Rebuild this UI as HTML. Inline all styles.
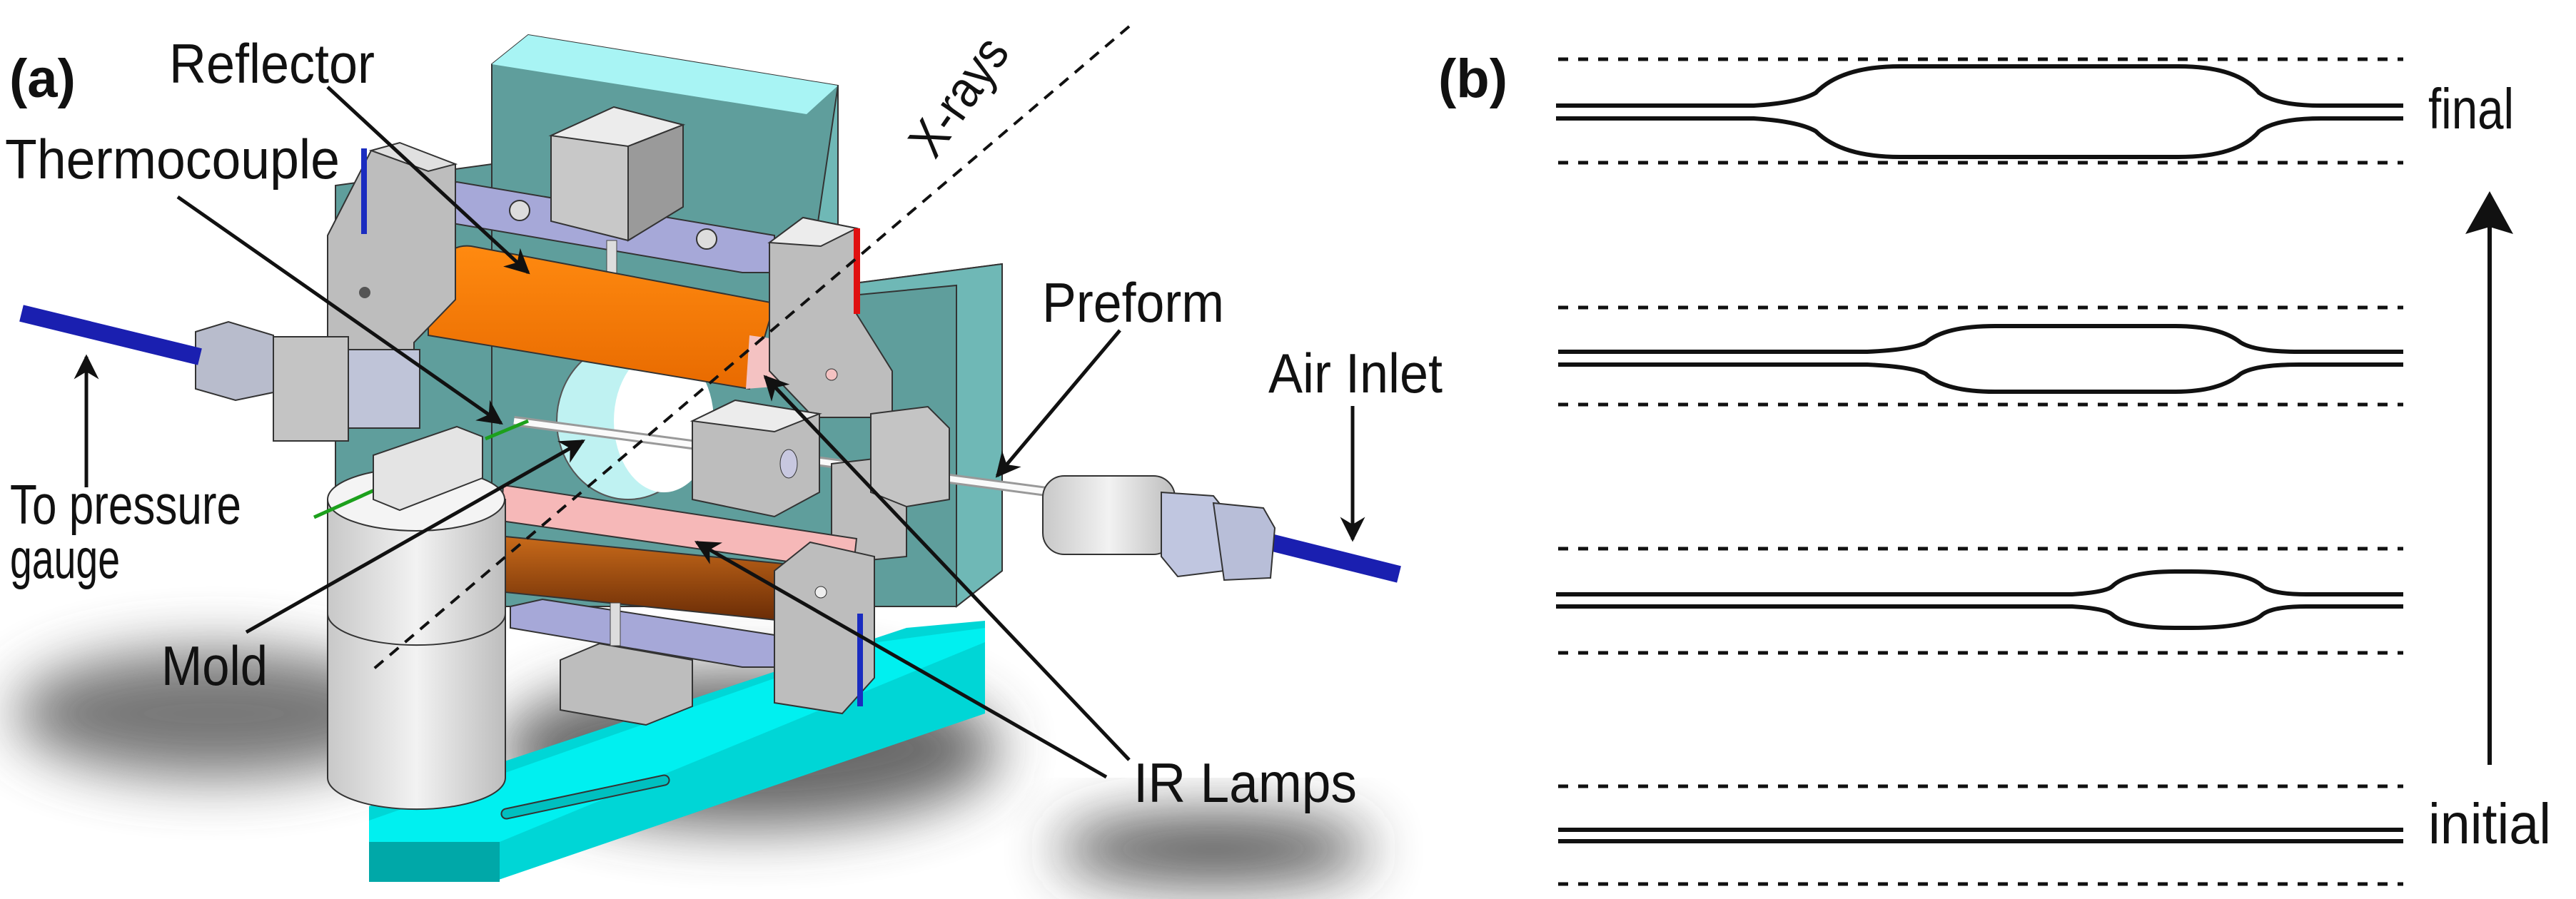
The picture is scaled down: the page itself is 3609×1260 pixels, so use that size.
<!DOCTYPE html>
<html><head><meta charset="utf-8"><style>
html,body{margin:0;padding:0;background:#fff;}
svg{display:block;}
text{font-family:"Liberation Sans",sans-serif;fill:#111;}
</style></head><body>
<svg width="3609" height="1260" viewBox="0 0 3609 1260" xmlns="http://www.w3.org/2000/svg">
<defs>
<filter id="bl" x="-50%" y="-50%" width="200%" height="200%"><feGaussianBlur stdDeviation="40"/></filter>
<marker id="ah" viewBox="0 0 20 20" refX="18" refY="10" markerWidth="7" markerHeight="7" orient="auto" markerUnits="strokeWidth"><path d="M0,0 L20,10 L0,20 L6,10 Z" fill="#111"/></marker>
<linearGradient id="cyl" x1="0" x2="1"><stop offset="0" stop-color="#c8c8c8"/><stop offset="0.5" stop-color="#f2f2f2"/><stop offset="1" stop-color="#bdbdbd"/></linearGradient>
<linearGradient id="org" x1="0" y1="0" x2="0" y2="1"><stop offset="0" stop-color="#ff8a10"/><stop offset="1" stop-color="#e86a00"/></linearGradient>
<linearGradient id="brn" x1="0" y1="0" x2="0" y2="1"><stop offset="0" stop-color="#c86a1a"/><stop offset="1" stop-color="#6a2c06"/></linearGradient>
</defs>

<ellipse cx="300" cy="1000" rx="280" ry="90" fill="#555" filter="url(#bl)" opacity="0.8"/>
<ellipse cx="1050" cy="1050" rx="350" ry="110" fill="#444" filter="url(#bl)" opacity="0.8"/>
<ellipse cx="1700" cy="1190" rx="220" ry="50" fill="#333" filter="url(#bl)" opacity="0.8"/>

<polygon points="517,1130 1270,880 1380,870 1380,1000 690,1236 517,1236" fill="#00d6d6"/>
<polygon points="517,1150 1230,900 1380,880 1380,900 700,1180 517,1180" fill="#00f0f0"/>
<polygon points="517,1180 700,1180 700,1236 517,1236" fill="#00a8a8"/>
<rect x="700" y="1110" width="240" height="14" rx="7" fill="#00c0c0" stroke="#333" stroke-width="2" transform="rotate(-12 820 1117)"/>

<polygon points="689,90 740,49 1174,120 1174,400 1404,370 1404,800 1340,850 689,850" fill="#5f9e9c" stroke="#333" stroke-width="2"/>
<polygon points="689,90 740,49 1174,120 1130,160" fill="#a8f4f4"/>
<polygon points="1174,120 1174,400 1404,370 1404,800 1340,850 1340,400 1130,420" fill="#6fb8b6" stroke="#333" stroke-width="2"/>
<polygon points="470,260 689,230 689,850 470,850" fill="#5f9e9c" stroke="#333" stroke-width="2"/>

<ellipse cx="880" cy="590" rx="100" ry="110" fill="#bff2f2" stroke="#555" stroke-width="2"/>
<ellipse cx="930" cy="590" rx="70" ry="100" fill="#fff"/>

<polygon points="587,270 640,255 1085,330 1085,382 1040,382 587,305" fill="#a6a8d8" stroke="#333" stroke-width="2"/>
<polygon points="715,850 760,840 1085,890 1085,935 1040,935 715,880" fill="#a6a8d8" stroke="#333" stroke-width="2"/>

<polygon points="772,190 860,150 957,175 957,290 880,337 772,310" fill="#c8c8c8" stroke="#333" stroke-width="2"/>
<polygon points="772,190 860,150 957,175 880,205" fill="#ececec" stroke="#333" stroke-width="2"/>
<polygon points="880,205 957,175 957,290 880,337" fill="#9a9a9a" stroke="#333" stroke-width="2"/>
<rect x="850" y="337" width="14" height="60" fill="#ddd" stroke="#444"/>
<circle cx="728" cy="295" r="14" fill="#ddd" stroke="#333" stroke-width="2"/>
<circle cx="990" cy="335" r="14" fill="#ddd" stroke="#333" stroke-width="2"/>

<path d="M600,400 Q620,340 660,345 L1085,425 L1050,545 L600,470 Z" fill="url(#org)" stroke="#333" stroke-width="2"/>
<polygon points="1050,470 1120,480 1110,540 1045,545" fill="#f4c2c2"/>

<polygon points="459,330 520,211 638,230 638,420 580,480 580,585 459,585" fill="#bdbdbd" stroke="#333" stroke-width="2"/>
<polygon points="520,211 560,200 638,230 600,240" fill="#e0e0e0" stroke="#333" stroke-width="2"/>
<rect x="506" y="208" width="8" height="120" fill="#1a2cc0"/>
<circle cx="511" cy="410" r="8" fill="#555"/>

<polygon points="1078,340 1125,305 1200,320 1200,440 1250,520 1250,585 1140,585 1078,520" fill="#bdbdbd" stroke="#333" stroke-width="2"/>
<polygon points="1078,340 1125,305 1200,320 1150,345" fill="#ececec" stroke="#333" stroke-width="2"/>
<rect x="1196" y="320" width="9" height="120" fill="#e01010"/>
<circle cx="1165" cy="525" r="8" fill="#f4c2c2" stroke="#333"/>

<rect x="383" y="472" width="105" height="146" fill="#c4c4c4" stroke="#333" stroke-width="2"/>
<rect x="488" y="490" width="100" height="110" fill="#bfc4d8" stroke="#333" stroke-width="2"/>
<polygon points="274,465 320,451 383,470 383,550 330,561 274,545" fill="#b8bccc" stroke="#333" stroke-width="2"/>
<line x1="30" y1="439" x2="280" y2="500" stroke="#1a1fb0" stroke-width="24"/>
<line x1="1780" y1="760" x2="1960" y2="805" stroke="#1a1fb0" stroke-width="24"/>

<line x1="720" y1="590" x2="1700" y2="720" stroke="#999" stroke-width="14"/>
<line x1="720" y1="590" x2="1700" y2="720" stroke="#fafafa" stroke-width="8"/>

<polygon points="970,590 1030,561 1148,580 1148,690 1085,724 970,700" fill="#bdbdbd" stroke="#333" stroke-width="2"/>
<polygon points="970,590 1030,561 1148,580 1085,605" fill="#ececec" stroke="#333" stroke-width="2"/>
<ellipse cx="1105" cy="650" rx="12" ry="20" fill="#c8c8e0" stroke="#333"/>

<polygon points="1165,650 1250,640 1270,660 1270,780 1165,790" fill="#bdbdbd" stroke="#333" stroke-width="2"/>
<polygon points="1220,580 1300,570 1330,600 1330,700 1270,710 1220,690" fill="#c4c4c4" stroke="#333" stroke-width="2"/>

<rect x="1461" y="667" width="185" height="110" rx="30" fill="url(#cyl)" stroke="#333" stroke-width="2"/>
<polygon points="1627,690 1700,695 1720,720 1715,800 1650,808 1627,780" fill="#c0c6e0" stroke="#333" stroke-width="2"/>
<polygon points="1700,705 1770,712 1786,740 1780,810 1715,813" fill="#b8bed8" stroke="#333" stroke-width="2"/>

<polygon points="705,680 1200,755 1195,800 702,730" fill="#f6b8b8" stroke="#333" stroke-width="2"/>
<polygon points="708,752 1097,790 1097,870 708,830" fill="url(#brn)" stroke="#333" stroke-width="2"/>

<polygon points="1085,800 1135,760 1225,780 1225,950 1180,1000 1085,985" fill="#bdbdbd" stroke="#333" stroke-width="2"/>
<circle cx="1150" cy="830" r="8" fill="#eee" stroke="#333"/>
<rect x="1201" y="860" width="8" height="130" fill="#1a2cc0"/>

<polygon points="785,925 840,902 970,925 970,990 905,1016 785,995" fill="#bdbdbd" stroke="#333" stroke-width="2"/>
<rect x="855" y="845" width="14" height="60" fill="#ddd" stroke="#444"/>

<path d="M459,700 L459,1090 A124,44 0 0 0 708,1090 L708,700 Z" fill="url(#cyl)" stroke="#333" stroke-width="2"/>
<ellipse cx="583" cy="700" rx="124" ry="44" fill="#f4f4f4" stroke="#333" stroke-width="2"/>
<path d="M459,860 A124,44 0 0 0 708,860" fill="none" stroke="#333" stroke-width="2"/>
<line x1="440" y1="725" x2="540" y2="680" stroke="#1ca01c" stroke-width="5"/>
<line x1="680" y1="615" x2="740" y2="590" stroke="#1ca01c" stroke-width="5"/>
<polygon points="523,638 640,598 676,612 676,670 560,715 523,700" fill="#e4e4e4" stroke="#333" stroke-width="2"/>

<line x1="1582" y1="37" x2="517" y2="943" stroke="#111" stroke-width="4" stroke-dasharray="16,12"/>
<text x="0" y="0" font-size="72" textLength="185" lengthAdjust="spacingAndGlyphs" transform="translate(1310,225) rotate(-55)">X-rays</text>

<text x="13" y="136" font-size="76" font-weight="bold">(a)</text>
<g font-size="78">
<text x="237" y="116" textLength="288" lengthAdjust="spacingAndGlyphs">Reflector</text>
<text x="7" y="250" textLength="469" lengthAdjust="spacingAndGlyphs">Thermocouple</text>
<text x="1460" y="451" textLength="255" lengthAdjust="spacingAndGlyphs">Preform</text>
<text x="1777" y="550" textLength="244" lengthAdjust="spacingAndGlyphs">Air Inlet</text>
<text x="14" y="734" textLength="324" lengthAdjust="spacingAndGlyphs">To pressure</text>
<text x="14" y="810" textLength="154" lengthAdjust="spacingAndGlyphs">gauge</text>
<text x="226" y="960" textLength="149" lengthAdjust="spacingAndGlyphs">Mold</text>
<text x="1588" y="1124" textLength="313" lengthAdjust="spacingAndGlyphs">IR Lamps</text>
</g>

<g stroke="#111" stroke-width="5" fill="none" marker-end="url(#ah)">
<line x1="459" y1="122" x2="740" y2="382"/>
<line x1="249" y1="276" x2="702" y2="593"/>
<line x1="345" y1="886" x2="817" y2="618"/>
<line x1="1569" y1="463" x2="1397" y2="667"/>
<line x1="1895" y1="569" x2="1895" y2="756"/>
<line x1="121" y1="683" x2="121" y2="500"/>
<line x1="1582" y1="1065" x2="1072" y2="528"/>
<line x1="1550" y1="1089" x2="976" y2="760"/>
</g>

<text x="2015" y="136" font-size="76" font-weight="bold">(b)</text>
<g stroke="#111" stroke-width="5" stroke-dasharray="14,14" fill="none">
<line x1="2183" y1="83" x2="3367" y2="83"/><line x1="2183" y1="228" x2="3367" y2="228"/>
<line x1="2183" y1="431" x2="3367" y2="431"/><line x1="2183" y1="567" x2="3367" y2="567"/>
<line x1="2183" y1="769" x2="3367" y2="769"/><line x1="2183" y1="915" x2="3367" y2="915"/>
<line x1="2183" y1="1102" x2="3367" y2="1102"/><line x1="2183" y1="1239" x2="3367" y2="1239"/>
</g>
<g stroke="#111" stroke-width="6" fill="none">
<path d="M2180,148 L2457,148 Q2520,144 2544,130 Q2580,93 2662,93 L3052,93 Q3135,93 3165,130 Q3190,148 3252,148 L3367,148"/>
<path d="M2180,166 L2457,166 Q2520,170 2544,184 Q2580,220 2662,220 L3052,220 Q3135,220 3165,184 Q3190,166 3252,166 L3367,166"/>
<path d="M2183,493 L2616,493 Q2680,490 2698,480 Q2725,457 2795,457 L3047,457 Q3110,457 3139,480 Q3160,493 3221,493 L3367,493"/>
<path d="M2183,511 L2616,511 Q2680,514 2698,524 Q2725,549 2795,549 L3047,549 Q3110,549 3139,524 Q3160,511 3221,511 L3367,511"/>
<path d="M2180,833 L2903,833 Q2950,830 2959,822 Q2980,801 3047,801 L3070,801 Q3150,801 3170,822 Q3185,833 3231,833 L3367,833"/>
<path d="M2180,850 L2903,850 Q2950,853 2959,861 Q2980,880 3047,880 L3070,880 Q3150,880 3170,861 Q3185,850 3231,850 L3367,850"/>
<line x1="2183" y1="1163" x2="3367" y2="1163"/>
<line x1="2183" y1="1179" x2="3367" y2="1179"/>
</g>
<line x1="3488" y1="1072" x2="3488" y2="310" stroke="#111" stroke-width="6"/>
<path d="M3488,268 L3521,328 L3488,318 L3454,328 Z" fill="#111"/>
<text x="3402" y="180" font-size="80" textLength="120" lengthAdjust="spacingAndGlyphs">final</text>
<text x="3402" y="1182" font-size="80" textLength="172" lengthAdjust="spacingAndGlyphs">initial</text>
</svg>
</body></html>
